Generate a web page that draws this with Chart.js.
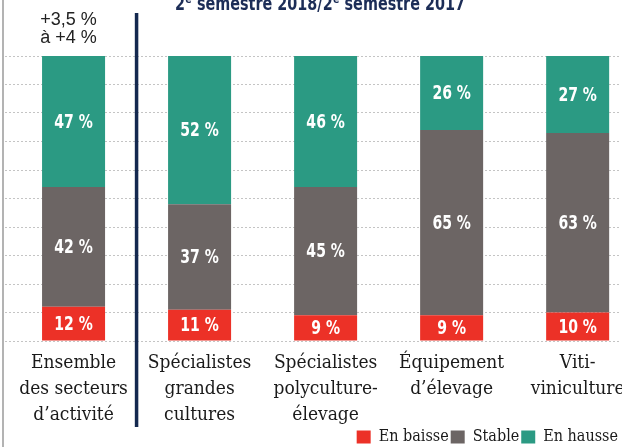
<!DOCTYPE html>
<html>
<head>
<meta charset="utf-8">
<script src="https://cdn.jsdelivr.net/npm/chart.js@4.4.1/dist/chart.umd.min.js"></script>
<style>
  html, body { margin: 0; padding: 0; background: #fff; }
  #chart-container { position: relative; width: 622px; height: 447px; }
</style>
</head>
<body>
<div id="chart-container"><canvas id="chart-canvas"></canvas></div>
<script>
const categories = [
  ['Ensemble', 'des secteurs', 'd\u2019activité'],
  ['Spécialistes', 'grandes', 'cultures'],
  ['Spécialistes', 'polyculture-', 'élevage'],
  ['Équipement', 'd\u2019élevage'],
  ['Viti-', 'viniculture']
];
const enBaisse = [12, 11, 9, 9, 10];
const stable = [42, 37, 45, 65, 63];
const enHausse = [47, 52, 46, 26, 27];
const seriesNames = ['En baisse', 'Stable', 'En hausse'];
const titleText = '2\u1d49 semestre 2018/2\u1d49 semestre 2017';
const overallNote = ['+3,5 %', 'à +4 %'];

const serif = "'DejaVu Serif Condensed', 'DejaVu Serif', serif";
const narrow = "'DejaVu Sans Condensed', 'DejaVu Sans', sans-serif";

const toPoints = arr => arr.map((v, i) => ({ x: i, y: v }));

// narrow text: squeeze horizontally around its centre
function narrowText(ctx, text, x, y, squeeze) {
  ctx.save();
  ctx.translate(x, y);
  ctx.scale(squeeze, 1);
  ctx.fillText(text, 0, 0);
  ctx.restore();
}

// white value labels in the middle of each segment
const valueLabels = {
  id: 'valueLabels',
  afterDatasetsDraw(chart) {
    const { ctx } = chart;
    ctx.save();
    ctx.fillStyle = '#fff';
    ctx.font = 'bold 20px ' + narrow;
    ctx.textAlign = 'center';
    ctx.textBaseline = 'middle';
    chart.data.datasets.forEach((ds, di) => {
      chart.getDatasetMeta(di).data.forEach((bar, i) => {
        const top = Math.max(bar.y, chart.chartArea.top);
        narrowText(ctx, ds.data[i].y + ' %', bar.x, (top + bar.base) / 2 + 1, 0.78);
      });
    });
    ctx.restore();
  }
};

// title, note above first bar, separator line, page edge
const extras = {
  id: 'extras',
  afterDraw(chart) {
    const { ctx } = chart;
    const x = chart.scales.x;
    ctx.save();
    ctx.strokeStyle = '#9a9a9a';
    ctx.lineWidth = 1.5;
    ctx.beginPath();
    ctx.moveTo(3, 0);
    ctx.lineTo(3, 447);
    ctx.stroke();

    ctx.strokeStyle = '#14284f';
    ctx.lineWidth = 3.5;
    ctx.beginPath();
    const sx = x.getPixelForValue(0.5);
    ctx.moveTo(sx, 13);
    ctx.lineTo(sx, 427);
    ctx.stroke();

    ctx.fillStyle = '#1c2d57';
    ctx.font = 'bold 20px ' + narrow;
    ctx.textAlign = 'center';
    ctx.textBaseline = 'alphabetic';
    narrowText(ctx, titleText, 320, 10, 0.8);

    ctx.fillStyle = '#222';
    ctx.font = '18px ' + "'Liberation Sans', sans-serif";
    ctx.textBaseline = 'middle';
    const cx = x.getPixelForValue(0) - 5;
    ctx.fillText(overallNote[0], cx, 20);
    ctx.fillText(overallNote[1], cx, 38);
    ctx.restore();
  }
};

new Chart(document.getElementById('chart-canvas'), {
  type: 'bar',
  data: {
    datasets: [
      { label: seriesNames[0], data: toPoints(enBaisse), backgroundColor: '#ec3127' },
      { label: seriesNames[1], data: toPoints(stable), backgroundColor: '#6c6564' },
      { label: seriesNames[2], data: toPoints(enHausse), backgroundColor: '#2b9a83' }
    ]
  },
  options: {
    responsive: true,
    maintainAspectRatio: false,
    animation: false,
    layout: { autoPadding: false, padding: { top: 56, left: 5, right: 2, bottom: 0 } },
    datasets: { bar: { barPercentage: 0.5, categoryPercentage: 1 } },
    plugins: {
      legend: {
        position: 'bottom',
        align: 'end',
        maxHeight: 20,
        labels: {
          boxWidth: 14,
          boxHeight: 13,
          padding: 2,
          color: '#1a1a1a',
          font: { family: serif, size: 16 }
        }
      },
      tooltip: { enabled: false }
    },
    scales: {
      x: {
        type: 'linear',
        stacked: true,
        offset: false,
        min: -0.544,
        max: 4.336,
        grid: { display: false, drawTicks: false },
        border: { display: false },
        afterBuildTicks: scale => {
          scale.ticks = categories.map((c, i) => ({ value: i }));
        },
        // labels may run off the edges like in the print, so no extra padding
        afterFit: scale => {
          scale.height = 86;
          scale.paddingLeft = 0;
          scale.paddingRight = 0;
        },
        ticks: {
          autoSkip: false,
          maxRotation: 0,
          padding: 9,
          color: '#1a1a1a',
          font: { family: serif, size: 19, lineHeight: 1.37 },
          callback: (value, index) => categories[index]
        }
      },
      y: {
        stacked: true,
        min: 0,
        max: 100,
        ticks: { display: false, stepSize: 10 },
        grid: { color: '#c4c4c4', lineWidth: 1, drawTicks: false },
        border: { display: false, dash: [2, 2] }
      }
    }
  },
  plugins: [valueLabels, extras]
});
</script>
</body>
</html>
